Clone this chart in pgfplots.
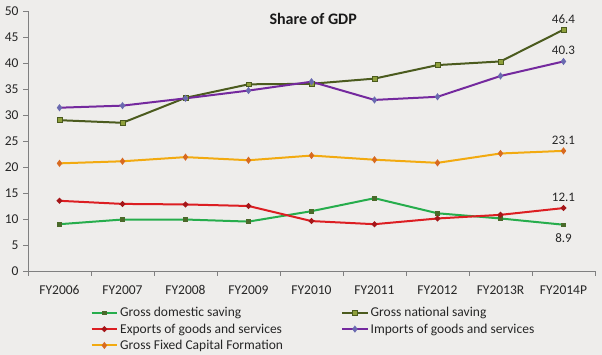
\documentclass[border=0pt]{standalone}
\usepackage{pgfplots}
\pgfplotsset{compat=1.18}
\usepackage{fontspec}
\setmainfont{Carlito}
\definecolor{bg}{HTML}{EEEDEB}
\definecolor{cgds}{HTML}{26AD4C}
\definecolor{cgdsm}{HTML}{4A6A2A}
\definecolor{cgns}{HTML}{4B5B1E}
\definecolor{cgnsm}{HTML}{8FA03C}
\definecolor{cexp}{HTML}{DC1E22}
\definecolor{cimp}{HTML}{74299E}
\definecolor{cimpm}{HTML}{6A6AB0}
\definecolor{cgfcf}{HTML}{F2AA10}
\definecolor{cgfcfm}{HTML}{D86A20}
\definecolor{axgray}{HTML}{808080}
\begin{document}
\begin{tikzpicture}
\useasboundingbox (0,0) rectangle (602pt,355pt);
\fill[bg] (0,0) rectangle (602pt,355pt);
\begin{axis}[
  at={(28pt,84pt)}, anchor=south west,
  scale only axis, width=567pt, height=260pt,
  xmin=-0.5, xmax=8.5, ymin=0, ymax=50,
  axis lines*=left,
  axis line style={axgray, line width=0.8pt},
  every outer x axis line/.append style={-}, every outer y axis line/.append style={-},
  xtick={0,...,8},
  xticklabels={FY2006,FY2007,FY2008,FY2009,FY2010,FY2011,FY2012,FY2013R,FY2014P},
  minor xtick={-0.5,0.5,...,8.5},
  major x tick style={draw=none},
  minor x tick style={axgray, line width=0.8pt},
  minor tick length=5pt,
  ytick={0,5,...,50},
  major y tick style={axgray, line width=0.8pt},
  major tick length=5pt,
  tick align=outside,
  tick pos=left,
  /pgf/number format/assume math mode=true,
  tick label style={font=\fontsize{13.5}{15}\selectfont, text=black!85},
  xticklabel style={yshift=-6pt},
  yticklabel style={xshift=-1pt},
  legend style={at={(0.11,-0.131)}, anchor=north west, draw=none, fill=none,
     font=\fontsize{13.5}{16}\selectfont, text=black!85, row sep=1.5pt, inner sep=0pt,
     /tikz/every even column/.append style={column sep=56pt}},
  legend columns=2,
  legend cell align=left,
  legend image code/.code={\draw[mark repeat=2,mark phase=2,#1] plot coordinates {(0cm,0cm) (0.45cm,0cm) (0.9cm,0cm)};},
  clip=false,
]
\addplot[cgds, line width=2pt, mark=square*, mark size=1.9pt, mark options={fill=cgdsm, draw=cgdsm, line width=0.4pt}]
 coordinates {(0,9.0) (1,9.9) (2,9.9) (3,9.5) (4,11.5) (5,14.0) (6,11.1) (7,10.1) (8,8.9)};
\addlegendentry{Gross domestic saving}
\addplot[cgns, line width=2pt, mark=square*, mark size=2.4pt, mark options={fill=cgnsm, draw=cgns, line width=0.6pt}]
 coordinates {(0,29.0) (1,28.5) (2,33.3) (3,35.9) (4,36.0) (5,37.0) (6,39.6) (7,40.3) (8,46.4)};
\addlegendentry{Gross national saving}
\addplot[cexp, line width=2pt, mark=*, mark size=1.7pt, mark options={fill=cexp!75!black, draw=cexp!75!black}]
 coordinates {(0,13.5) (1,12.9) (2,12.8) (3,12.5) (4,9.6) (5,9.0) (6,10.1) (7,10.8) (8,12.1)};
\addlegendentry{Exports of goods and services}
\addplot[cimp, line width=2pt, mark=diamond*, mark size=2pt, mark options={fill=cimpm, draw=cimpm}]
 coordinates {(0,31.4) (1,31.8) (2,33.2) (3,34.7) (4,36.4) (5,32.9) (6,33.5) (7,37.5) (8,40.3)};
\addlegendentry{Imports of goods and services}
\addplot[cgfcf, line width=2pt, mark=diamond*, mark size=2pt, mark options={fill=cgfcfm, draw=cgfcfm}]
 coordinates {(0,20.7) (1,21.1) (2,21.9) (3,21.3) (4,22.2) (5,21.4) (6,20.8) (7,22.6) (8,23.1)};
\addlegendentry{Gross Fixed Capital Formation}
\node[font=\fontsize{13}{15}\selectfont, text=black!85, above=3pt] at (axis cs:8,46.4) {46.4};
\node[font=\fontsize{13}{15}\selectfont, text=black!85, above=3pt] at (axis cs:8,40.3) {40.3};
\node[font=\fontsize{13}{15}\selectfont, text=black!85, above=3pt] at (axis cs:8,23.1) {23.1};
\node[font=\fontsize{13}{15}\selectfont, text=black!85, above=3pt] at (axis cs:8,12.1) {12.1};
\node[font=\fontsize{13}{15}\selectfont, text=black!85, below=5pt] at (axis cs:8,8.9) {8.9};
\node[font=\bfseries\fontsize{16}{18}\selectfont, text=black!90] at (rel axis cs:0.503,0.968) {Share of GDP};
\end{axis}
\end{tikzpicture}
\end{document}
